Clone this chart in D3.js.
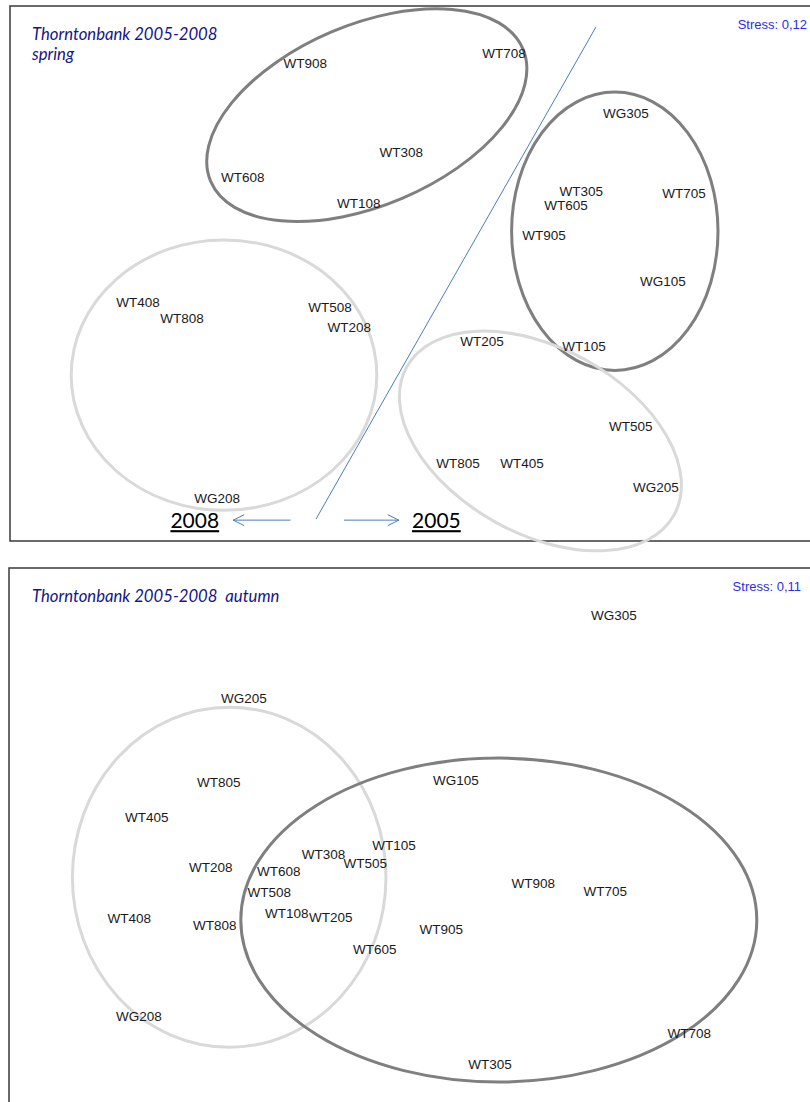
<!DOCTYPE html>
<html>
<head>
<meta charset="utf-8">
<script src="https://cdn.jsdelivr.net/npm/d3@7"></script>
<style>
  body { margin: 0; background: #fff; }
  svg { display: block; }
</style>
</head>
<body>
<script>
// MDS ordination, positions in relative units (0-100) of each panel
var springNames = ['WT708', 'WT908', 'WT308', 'WT608', 'WT108', 'WG305', 'WT305', 'WT605',
                   'WT705', 'WT905', 'WG105', 'WT105', 'WT408', 'WT808', 'WT508', 'WT208',
                   'WG208', 'WT205', 'WT505', 'WT805', 'WT405', 'WG205'];
var springX = [61.75, 36.9, 48.9, 29.1, 43.6, 77.0, 71.4, 69.5,
               84.25, 66.75, 81.6, 71.75, 16.0, 21.5, 40.0, 42.4,
               25.9, 59.0, 77.6, 56.0, 64.0, 80.75];
var springY = [8.8, 10.7, 27.3, 32.0, 36.8, 20.0, 34.6, 37.2,
               35.0, 42.8, 51.4, 63.6, 55.3, 58.3, 56.4, 60.0,
               92.1, 62.6, 78.5, 85.4, 85.4, 89.9];

var autumnNames = ['WG305', 'WG205', 'WT805', 'WT405', 'WG105', 'WT208', 'WT608', 'WT308',
                   'WT505', 'WT105', 'WT508', 'WT108', 'WT205', 'WT808', 'WT408', 'WT908',
                   'WT705', 'WT905', 'WT605', 'WG208', 'WT708', 'WT305'];
var autumnX = [75.5, 29.25, 26.1, 17.1, 55.75, 25.1, 33.6, 39.2,
               44.4, 48.0, 32.4, 34.6, 40.1, 25.6, 14.9, 65.4,
               74.4, 53.9, 45.6, 16.1, 84.9, 60.0];
var autumnY = [8.8, 24.3, 40.0, 46.5, 39.6, 55.9, 56.6, 53.5,
               55.1, 51.8, 60.7, 64.5, 65.2, 66.7, 65.4, 58.9,
               60.4, 67.5, 71.2, 83.7, 86.9, 92.7];

// group outlines: centre, half axes (in x units), rotation
var springGroups = [
  {cx: 44.6, cy: 20.4, a: 21.2, b: 11.3, rot: -23, kind: 'dark'},
  {cx: 75.6, cy: 42.1, a: 12.9, b: 17.4, rot: 0, kind: 'dark'},
  {cx: 26.75, cy: 69.0, a: 19.1, b: 16.9, rot: 0, kind: 'light'},
  {cx: 66.3, cy: 81.3, a: 19.1, b: 11.6, rot: 29, kind: 'light'}
];
var autumnGroups = [
  {cx: 27.4, cy: 57.8, a: 19.6, b: 21.25, rot: 0, kind: 'light'},
  {cx: 61.1, cy: 65.8, a: 32.25, b: 20.25, rot: 0, kind: 'dark'}
];

var w = 810;
var h = 1102;
var panelW = 800;
var panelH = 535;

var svg = d3.select('body')
    .append('svg')
    .attr('width', w)
    .attr('height', h);

var strokeCol = {dark: '#7f7f7f', light: '#d9d9d9'};

function drawPanel(top, left, names, xs, ys, groups, titleLines, stress, stressRight) {
  var x = d3.scaleLinear().domain([0, 100]).range([10, 10 + panelW]);
  var y = d3.scaleLinear().domain([0, 100]).range([top, top + panelH]);
  var r = d3.scaleLinear().domain([0, 100]).range([0, panelW]);

  var g = svg.append('g');

  // frame (right edge falls outside the window)
  g.append('rect')
    .attr('x', left)
    .attr('y', top)
    .attr('width', w + 10 - left)
    .attr('height', panelH)
    .attr('fill', 'none')
    .attr('stroke', '#3a3a3a')
    .attr('stroke-width', 1.5);

  g.selectAll('ellipse')
    .data(groups)
    .enter()
    .append('ellipse')
    .attr('transform', d => 'translate(' + x(d.cx) + ',' + y(d.cy) + ') rotate(' + d.rot + ')')
    .attr('rx', d => r(d.a))
    .attr('ry', d => r(d.b))
    .attr('fill', 'none')
    .attr('stroke', d => strokeCol[d.kind])
    .attr('stroke-width', 3);

  g.selectAll('text.site')
    .data(names)
    .enter()
    .append('text')
    .attr('class', 'site')
    .text(d => d)
    .attr('x', (d, i) => x(xs[i]))
    .attr('y', (d, i) => y(ys[i]))
    .attr('dy', '0.35em')
    .attr('text-anchor', 'middle')
    .attr('font-family', 'Liberation Sans, Arial, sans-serif')
    .attr('font-size', '13.5px')
    .attr('fill', '#1a1a1a');

  // title
  g.selectAll('text.title')
    .data(titleLines)
    .enter()
    .append('text')
    .attr('class', 'title')
    .text(d => d)
    .attr('x', 32)
    .attr('y', (d, i) => top + 34 + i * 20)
    .attr('font-family', 'Lato, sans-serif')
    .attr('font-style', 'italic')
    .attr('font-size', '16.7px')
    .attr('fill', '#15158a')
    .style('white-space', 'pre');

  g.append('text')
    .text(stress)
    .attr('x', stressRight)
    .attr('y', top + 23)
    .attr('text-anchor', 'end')
    .attr('font-family', 'Liberation Sans, Arial, sans-serif')
    .attr('font-size', '13px')
    .attr('fill', '#2b2bf0');

  return {x: x, y: y, g: g};
}

var top1 = drawPanel(6, 10, springNames, springX, springY, springGroups,
  ['Thorntonbank 2005-2008', 'spring'], 'Stress: 0,12', 807);

drawPanel(568, 9, autumnNames, autumnX, autumnY, autumnGroups,
  ['Thorntonbank 2005-2008  autumn'], 'Stress: 0,11', 801);

// divider and year arrows in the spring panel
var sx = top1.x, sy = top1.y, sg = top1.g;
var blue = '#4a7ebb';

sg.append('line')
  .attr('x1', sx(73.25)).attr('y1', sy(3.9))
  .attr('x2', sx(38.25)).attr('y2', sy(95.9))
  .attr('stroke', blue)
  .attr('stroke-width', 1);

var arrows = [{from: 35.06, to: 27.9}, {from: 41.75, to: 48.6}];
var arrowY = 96.1;
arrows.forEach(function(a) {
  var dir = a.to > a.from ? 1 : -1;
  var tx = sx(a.to), ty = sy(arrowY);
  sg.append('line')
    .attr('x1', sx(a.from)).attr('y1', ty)
    .attr('x2', tx).attr('y2', ty)
    .attr('stroke', blue).attr('stroke-width', 1);
  sg.append('path')
    .attr('d', 'M' + (tx - dir * 11) + ',' + (ty - 5.5) + 'L' + tx + ',' + ty + 'L' + (tx - dir * 11) + ',' + (ty + 5.5))
    .attr('fill', 'none')
    .attr('stroke', blue).attr('stroke-width', 1);
});

var years = ['2008', '2005'];
var yearX = [23.1, 53.3];
sg.selectAll('text.year')
  .data(years)
  .enter()
  .append('text')
  .attr('class', 'year')
  .text(d => d)
  .attr('x', (d, i) => sx(yearX[i]))
  .attr('y', sy(97.6))
  .attr('text-anchor', 'middle')
  .attr('font-family', 'Lato, sans-serif')
  .attr('font-size', '21px')
  .attr('fill', '#000')
  .attr('text-decoration', 'underline');
</script>
</body>
</html>
